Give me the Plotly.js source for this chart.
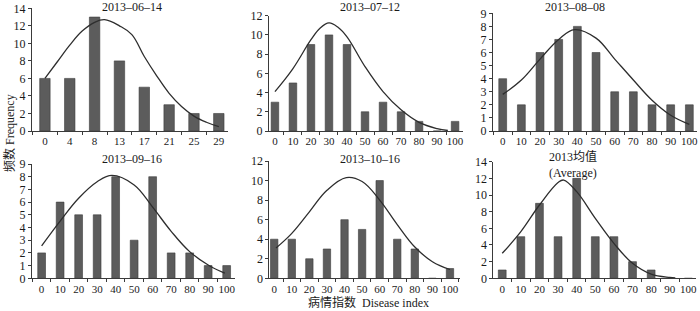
<!DOCTYPE html>
<html><head><meta charset="utf-8">
<script src="https://cdn.plot.ly/plotly-3.0.1.min.js"></script>
<style>html,body{margin:0;padding:0;background:#fff}#chart{width:700px;height:311px}</style>
</head><body><div id="chart"></div>
<script>
// ---- data ----
const catsJun = ['0','4','8','13','17','21','25','29'];
const catsIdx = ['0','10','20','30','40','50','60','70','80','90','100'];

const freqJun14 = [6,6,13,8,5,3,2,2];
const freqJul12 = [3,5,9,10,9,2,3,2,1,0,1];
const freqAug08 = [4,2,6,7,8,6,3,3,2,2,2];
const freqSep16 = [2,6,5,5,8,3,8,2,2,1,1];
const freqOct16 = [4,4,2,3,6,5,10,4,3,0,1];
const freqAvg   = [1,5,9,5,12,5,5,2,1,0,0];

// fitted curves (x in category-slot units)
const curveXJun14 = [0,0.5,1,1.5,2,2.4,3,3.5,4,4.5,5,5.5,6,6.5,7];
const curveYJun14 = [6.0,7.9,9.8,11.4,12.4,12.7,12.0,11.0,8.5,6.3,4.3,2.8,1.7,1.0,0.5];
const curveXJul12 = [0,1,2,2.5,3,3.5,4,5,6,7,8,9,9.6];
const curveYJul12 = [4.1,6.5,9.5,10.7,11.25,10.8,9.8,6.7,4.1,2.2,0.9,0.25,0.05];
const curveXAug08 = [0,1,2,3,3.85,5,6,7,8,9,10];
const curveYAug08 = [2.8,3.9,5.5,7.0,7.75,7.1,5.5,3.9,2.35,1.2,0.5];
const curveXSep16 = [0,1,2,3,3.8,5,6,7,8,9,9.9];
const curveYSep16 = [2.55,4.5,6.3,7.6,8.1,7.35,5.6,3.7,2.1,1.05,0.4];
const curveXOct16 = [0.1,1,2,3,4.1,5,6,7,8,9,10];
const curveYOct16 = [3.1,4.6,6.8,9.0,10.3,9.9,8.0,5.5,3.2,1.7,0.9];
const curveXAvg   = [0,1,2,3,3.3,4,5,6,7,8,9,9.3];
const curveYAvg   = [3.0,5.6,8.8,11.5,11.8,10.4,7.2,4.2,1.8,0.5,0.1,0.05];

const panelTitles = ['2013–06–14','2013–07–12','2013–08–08','2013–09–16','2013–10–16','2013均值'];
const avgSubtitle = '(Average)';
const yTitle = '频数 Frequency';
const xTitle = '病情指数  Disease index';

// ---- layout geometry (pixels) ----
const W = 700, H = 311;
const fx = p => p / W, fy = p => 1 - p / H;
const panels = [
  {cats: catsJun, y: freqJun14, cx: curveXJun14, cy: curveYJun14, xd:[32,228],  xr:[-0.52,7.37],  yd:[131,8.3],   ymax:14, dt:2, tx:132, ty:7},
  {cats: catsIdx, y: freqJul12, cx: curveXJul12, cy: curveYJul12, xd:[269,463], xr:[-0.33,10.44], yd:[131,15.7],  ymax:12, dt:2, tx:370, ty:7},
  {cats: catsIdx, y: freqAug08, cx: curveXAug08, cy: curveYAug08, xd:[493,697], xr:[-0.52,10.41], yd:[131,13.3],  ymax:9,  dt:1, tx:575, ty:7},
  {cats: catsIdx, y: freqSep16, cx: curveXSep16, cy: curveYSep16, xd:[32,235],  xr:[-0.52,10.45], yd:[278.3,164], ymax:9,  dt:1, tx:132, ty:159},
  {cats: catsIdx, y: freqOct16, cx: curveXOct16, cy: curveYOct16, xd:[269.3,460], xr:[-0.28,10.57], yd:[278.3,161], ymax:12, dt:2, tx:370, ty:159},
  {cats: catsIdx, y: freqAvg,   cx: curveXAvg,   cy: curveYAvg,   xd:[493.3,696], xr:[-0.48,10.41], yd:[278.3,161.7], ymax:14, dt:2, tx:573, ty:157}
];

const FONT = '"Liberation Serif", "Times New Roman", "Noto Sans CJK SC", serif';
const axCol = '#3a3a3a';
const traces = [];
const layout = {
  width: W, height: H,
  margin: {l:0, r:0, t:0, b:0},
  paper_bgcolor: '#fff', plot_bgcolor: 'rgba(0,0,0,0)',
  showlegend: false,
  font: {family: FONT, size: 12, color: '#1a1a1a'},
  annotations: []
};

panels.forEach((p, i) => {
  const n = i + 1;
  const xs = n === 1 ? '' : String(n);
  const ovN = n + 6;
  traces.push({
    type: 'bar', x: p.cats, y: p.y, xaxis: 'x' + xs, yaxis: 'y' + xs,
    width: 0.42, marker: {color: '#5c5c5c', line: {color: '#3c3c3c', width: 0.6}},
    hoverinfo: 'skip'
  });
  traces.push({
    type: 'scatter', mode: 'lines', x: p.cx, y: p.cy, xaxis: 'x' + ovN, yaxis: 'y' + xs,
    line: {color: '#2e2e2e', width: 1.3, shape: 'spline', smoothing: 1.1},
    hoverinfo: 'skip', cliponaxis: false
  });
  layout['xaxis' + xs] = {
    type: 'category', domain: [fx(p.xd[0]), fx(p.xd[1])], anchor: 'y' + xs,
    range: p.xr, tickson: 'boundaries', ticks: 'outside', ticklen: 3, tickwidth: 1,
    tickcolor: axCol, showline: true, linecolor: axCol, linewidth: 1, tickangle: 0,
    showgrid: false, zeroline: false, tickfont: {size: 11}, fixedrange: true
  };
  layout['xaxis' + ovN] = {
    type: 'linear', overlaying: 'x' + xs, anchor: 'y' + xs, range: p.xr,
    visible: false, showgrid: false, zeroline: false, fixedrange: true
  };
  layout['yaxis' + xs] = {
    domain: [fy(p.yd[0]), fy(p.yd[1])], anchor: 'x' + xs,
    range: [0, p.ymax], tickmode: 'linear', tick0: 0, dtick: p.dt,
    ticks: 'outside', ticklen: 3, tickwidth: 1, tickcolor: axCol,
    showline: true, linecolor: axCol, linewidth: 1,
    showgrid: false, zeroline: false, tickfont: {size: 12}, fixedrange: true
  };
  layout.annotations.push({
    text: panelTitles[i], xref: 'paper', yref: 'paper',
    x: fx(p.tx), y: fy(p.ty), xanchor: 'center', yanchor: 'middle',
    showarrow: false, font: {size: 12}
  });
});
layout.annotations.push({
  text: avgSubtitle, xref: 'paper', yref: 'paper',
  x: fx(573), y: fy(173), xanchor: 'center', yanchor: 'middle',
  showarrow: false, font: {size: 12}
});
layout.annotations.push({
  text: yTitle, xref: 'paper', yref: 'paper',
  x: fx(10), y: fy(133), xanchor: 'center', yanchor: 'middle',
  textangle: -90, showarrow: false, font: {size: 12}
});
layout.annotations.push({
  text: xTitle, xref: 'paper', yref: 'paper',
  x: fx(368), y: fy(302), xanchor: 'center', yanchor: 'middle',
  showarrow: false, font: {size: 12}
});

Plotly.newPlot('chart', traces, layout, {displayModeBar: false, staticPlot: true});
</script>
</body></html>
